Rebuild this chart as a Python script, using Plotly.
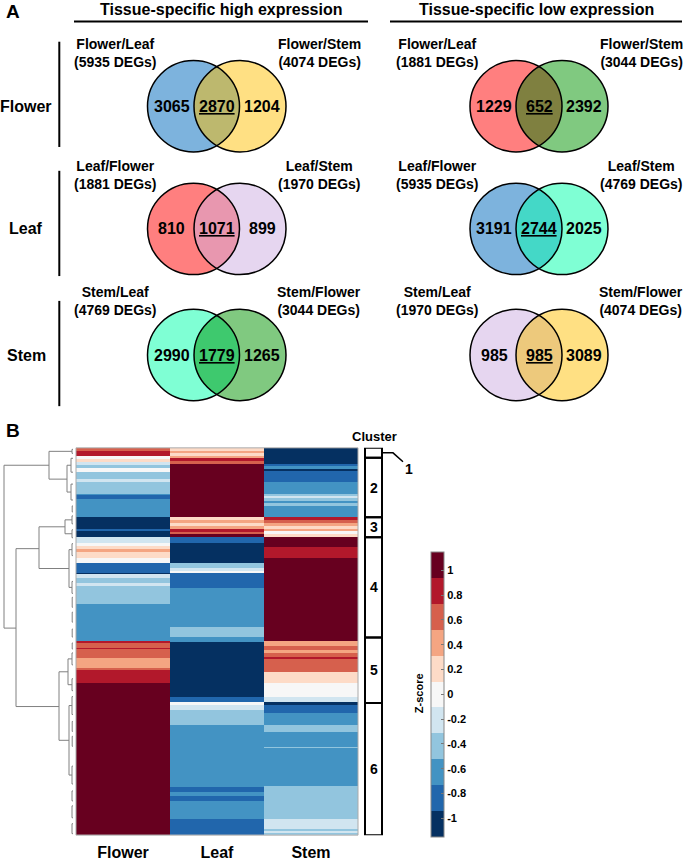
import numpy as np
import plotly.graph_objects as go

W, H = 685, 861
FONT = "Liberation Sans, Arial, sans-serif"

# ---------------- Panel A data ----------------
panel_titles = ["Tissue-specific high expression", "Tissue-specific low expression"]
row_tissues = ["Flower", "Leaf", "Stem"]

high_left_names = ["Flower/Leaf", "Leaf/Flower", "Stem/Leaf"]
high_right_names = ["Flower/Stem", "Leaf/Stem", "Stem/Flower"]
high_left_totals = [5935, 1881, 4769]
high_right_totals = [4074, 1970, 3044]
high_left_only = [3065, 810, 2990]
high_overlap = [2870, 1071, 1779]
high_right_only = [1204, 899, 1265]

low_left_names = ["Flower/Leaf", "Leaf/Flower", "Stem/Leaf"]
low_right_names = ["Flower/Stem", "Leaf/Stem", "Stem/Flower"]
low_left_totals = [1881, 5935, 1970]
low_right_totals = [3044, 4769, 4074]
low_left_only = [1229, 3191, 985]
low_overlap = [652, 2744, 985]
low_right_only = [2392, 2025, 3089]

# ---------------- Panel B data ----------------
tissues = ["Flower", "Leaf", "Stem"]
# run-length encoded z-scores (number of genes, z-score) in clustered order, top to bottom
flower_runs = [(3, 0.6), (5, 0.8), (3, 0), (3, 0.2), (3, -0.2), (3, -0.4), (4, 0), (7, -0.4),
               (3, -0.2), (12, -0.4), (2, -0.6), (4, -0.8), (18, -0.6), (12, -1), (2, -0.8),
               (6, -1), (6, -0.2), (3, 0), (3, 0.2), (3, 0.4), (6, 0.2), (5, 0), (10, -0.8),
               (1, -1), (4, -0.2), (5, -0.4), (3, -0.2), (18, -0.4), (38, -0.6), (2, 0.8),
               (5, 0.6), (1, 0.8), (9, 0.6), (10, 0.4), (2, 0.6), (13, 0.8), (153, 1)]
leaf_runs = [(3, 0.2), (2, 0.4), (3, 0.2), (2, 0.4), (3, 0.8), (3, 0.6), (54, 1),
             (3, 0.2), (3, 0.4), (3, 0.2), (3, 0.4), (3, 0.8), (2, 0.6), (3, 1),
             (6, -0.8), (20, -1), (5, -0.4), (3, -0.2), (2, 0), (15, -0.8), (40, -0.6), (10, -0.4),
             (5, -0.6), (55, -1), (5, -0.8), (3, 0), (5, -0.2), (15, -0.4), (63, -0.6), (5, -0.8),
             (4, -0.6), (5, -0.8), (18, -0.6), (16, -0.8)]
stem_runs = [(16, -1), (2, -0.8), (3, -0.6), (2, -1), (2, -0.8), (9, -0.8), (13, -0.6), (2, -0.4),
             (2, -0.2), (3, -0.4), (2, -0.6), (3, -0.4), (11, -0.6),
             (3, 0.8), (3, 0.6), (3, 0.4), (3, 0.2), (2, 0.4), (3, 0), (3, 0.2),
             (10, 1), (11, 0.8), (84, 1),
             (5, 0.4), (4, 0.6), (3, 0.4), (4, 0.6), (2, 0.8), (13, 0.6), (11, 0.2), (14, 0),
             (5, -0.2), (3, -1), (8, -0.8), (12, -0.6), (7, -0.4), (15, -0.6), (1, -0.4),
             (39, -0.6), (33, -0.4), (10, -0.2), (2, -0.4), (2, -0.2), (2, -0.4)]
cluster_names = ["1", "2", "3", "4", "5", "6"]
cluster_sizes = [10, 60, 20, 101, 66, 133]

# dendrogram merges: (row of upper child, height of upper child, row of lower child, height of lower child, merge height)
dend_upper_row = [17, 3, 1, 17, 10, 36, 101, 79, 72, 68, 82, 102, 96, 134, 225, 212, 206, 232, 259, 250, 320,
                  58, 150, 165, 182, 196, 275, 290, 345, 360, 378]
dend_upper_h = [24, 1, 0, 2, 0, 0, 34, 8, 1, 0, 0, 1, 0, 0, 5, 1, 0, 0, 1, 0, 0,
                0, 0, 0, 0, 0, 0, 0, 0, 0, 0]
dend_lower_row = [181, 31, 5, 44, 24, 52, 260, 121, 86, 76, 90, 140, 108, 146, 294, 238, 218, 244, 329, 268, 338,
                  64, 160, 175, 190, 202, 285, 300, 355, 372, 388]
dend_lower_h = [57, 6, 0, 2, 0, 0, 14, 4, 1, 0, 0, 1, 0, 0, 4, 1, 0, 0, 1, 0, 0,
                0, 0, 0, 0, 0, 0, 0, 0, 0, 0]
dend_merge_h = [69, 24, 1, 6, 2, 2, 57, 34, 8, 1, 1, 4, 1, 1, 14, 5, 1, 1, 4, 1, 1,
                0.8, 0.8, 0.8, 0.8, 0.8, 0.8, 0.8, 1, 1, 1]

colorbar_ticks = [1, 0.8, 0.6, 0.4, 0.2, 0, -0.2, -0.4, -0.6, -0.8, -1]

# ---------------- styles ----------------
rdbu11 = ["#053061", "#2166ac", "#4393c3", "#92c5de", "#d1e5f0", "#f7f7f7",
          "#fddbc7", "#f4a582", "#d6604d", "#b2182b", "#67001f"]
venn_colors = [
    [("#7DB3DD", "#FFE083", "#BDB86E"), ("#FF7F7F", "#E6D6F0", "#E897AF"), ("#7FFFD4", "#80C980", "#3EC96E")],
    [("#FF7F7F", "#80C980", "#7F8040"), ("#7DB3DD", "#7FFFD4", "#44D8C7"), ("#E6D6F0", "#FFE083", "#EDC97C")],
]
col_cx = [(193.5, 240.0), (516.0, 562.0)]
row_cy = [107.0, 230.5, 357.5]
RAD = 46.0


def expand(runs):
    out = []
    for n, v in runs:
        out += [v] * n
    return out


def bold(s):
    return "<b>%s</b>" % s


fig = go.Figure()
shapes = []
annotations = []


def ann(x, y, text, size, xref="x", yref="y", **kw):
    d = dict(x=x, y=y, text=text, xref=xref, yref=yref, showarrow=False,
             font=dict(family=FONT, size=size, color="black"))
    d.update(kw)
    annotations.append(d)


# invisible anchor trace for overlay pixel axes
fig.add_trace(go.Scatter(x=[0, W], y=[0, H], mode="markers", marker=dict(opacity=0),
                         hoverinfo="skip", showlegend=False, xaxis="x", yaxis="y"))

# ---------------- Panel A ----------------
ann(4, 12, bold("A"), 19, xanchor="left")
title_spans = [(74, 368), (390, 682)]
for t, (x0, x1) in zip(panel_titles, title_spans):
    ann((x0 + x1) / 2, 10, bold(t), 16)
    shapes.append(dict(type="line", xref="x", yref="y", x0=x0, x1=x1, y0=21.7, y1=21.7,
                       line=dict(color="black", width=2)))

bars = [(42, 148), (172, 278), (303, 409)]
for name, cy, (b0, b1) in zip(row_tissues, row_cy, bars):
    ann(26, cy, bold(name), 16)
    shapes.append(dict(type="line", xref="x", yref="y", x0=59.3, x1=59.3, y0=b0, y1=b1,
                       line=dict(color="black", width=2)))

panels = [
    (high_left_names, high_right_names, high_left_totals, high_right_totals,
     high_left_only, high_overlap, high_right_only),
    (low_left_names, low_right_names, low_left_totals, low_right_totals,
     low_left_only, low_overlap, low_right_only),
]


def lens_path(xa, xb, cy, r):
    d = xb - xa
    a = np.arccos(d / 2 / r)
    t1 = np.linspace(-a, a, 40)
    t2 = np.linspace(np.pi - a, np.pi + a, 40)
    pts = [(xa + r * np.cos(t), cy + r * np.sin(t)) for t in t1]
    pts += [(xb + r * np.cos(t), cy - r * np.sin(t - np.pi) * -1) for t in t2]
    p = "M %.2f,%.2f " % pts[0] + " ".join("L %.2f,%.2f" % q for q in pts[1:]) + " Z"
    return p


for ci, (lnames, rnames, ltot, rtot, lonly, ov, ronly) in enumerate(panels):
    xa, xb = col_cx[ci]
    for ri in range(3):
        cy = row_cy[ri]
        cl, cr, co = venn_colors[ci][ri]
        shapes.append(dict(type="circle", xref="x", yref="y", x0=xa - RAD, x1=xa + RAD,
                           y0=cy - RAD, y1=cy + RAD, fillcolor=cl, line=dict(width=0)))
        shapes.append(dict(type="circle", xref="x", yref="y", x0=xb - RAD, x1=xb + RAD,
                           y0=cy - RAD, y1=cy + RAD, fillcolor=cr, line=dict(width=0)))
        shapes.append(dict(type="path", xref="x", yref="y", path=lens_path(xa, xb, cy, RAD),
                           fillcolor=co, line=dict(width=0)))
        for xc in (xa, xb):
            shapes.append(dict(type="circle", xref="x", yref="y", x0=xc - RAD, x1=xc + RAD,
                               y0=cy - RAD, y1=cy + RAD, line=dict(color="black", width=1.5)))
        ann(xa - 22, cy, bold(lonly[ri]), 16)
        ann((xa + xb) / 2, cy, bold("<u>%d</u>" % ov[ri]), 16)
        ann(xb + 22, cy, bold(ronly[ri]), 16)
        ann(xa - 79, cy - 54, bold("%s<br>(%d DEGs)" % (lnames[ri], ltot[ri])), 14)
        ann(xb + 79, cy - 54, bold("%s<br>(%d DEGs)" % (rnames[ri], rtot[ri])), 14)

# ---------------- Panel B ----------------
ann(4, 434, bold("B"), 19, xanchor="left")

cols = [expand(flower_runs), expand(leaf_runs), expand(stem_runs)]
n = len(cols[0])
z = np.array(cols).T
rows = np.arange(n)

ncol = len(rdbu11)
cs = []
for i, c in enumerate(rdbu11):
    cs.append([i / ncol, c])
    cs.append([(i + 1) / ncol, c])

fig.add_trace(go.Heatmap(
    z=z, x=tissues, y=rows, xaxis="x3", yaxis="y3", colorscale=cs, zmin=-1.15, zmax=1.15,
    hoverinfo="skip",
    colorbar=dict(x=430.7 / W, xanchor="left", xpad=0, ypad=0, thickness=12.6,
                  thicknessmode="pixels", len=285, lenmode="pixels",
                  y=1 - 699.2 / H, yanchor="middle",
                  tickvals=colorbar_ticks, ticktext=[str(t) for t in colorbar_ticks],
                  ticks="inside", ticklen=3, tickcolor="#777", outlinewidth=1, outlinecolor="#888",
                  tickfont=dict(family=FONT, size=11, color="black", weight="bold")),
))

# dendrogram
dx, dy = [], []
for ur, uh, lr, lh, mh in zip(dend_upper_row, dend_upper_h, dend_lower_row, dend_lower_h, dend_merge_h):
    dx += [uh, mh, mh, lh, None]
    dy += [ur, ur, lr, lr, None]
fig.add_trace(go.Scatter(x=dx, y=dy, mode="lines", line=dict(color="#808080", width=1),
                         xaxis="x4", yaxis="y3", hoverinfo="skip", showlegend=False))

# heatmap border
shapes.append(dict(type="rect", xref="x3 domain", yref="y3 domain", x0=0, x1=1, y0=0, y1=1,
                   line=dict(color="#aaaaaa", width=1)))

# cluster boxes
start = 0
for name, size in zip(cluster_names, cluster_sizes):
    y0 = start - 0.5
    y1 = start + size - 0.5
    shapes.append(dict(type="rect", xref="x", yref="y3", x0=365, x1=382, y0=y0, y1=y1,
                       line=dict(color="black", width=2)))
    if name == "1":
        ym = (y0 + y1) / 2
        shapes.append(dict(type="path", xref="x", yref="y3",
                           path="M 382,%.1f L 393,%.1f L 403,%.1f" % (ym, ym, ym + 9),
                           line=dict(color="black", width=1.5)))
        ann(408.5, ym + 16, bold(name), 14, yref="y3")
    else:
        ann(373.5, (y0 + y1) / 2, bold(name), 14, yref="y3")
    start += size

ann(374, 440, bold("Cluster"), 13)
ann(419, 698, bold("Z-score"), 11, textangle=-90)

fig.update_layout(
    width=W, height=H, autosize=False, margin=dict(l=0, r=0, t=0, b=0),
    paper_bgcolor="white", plot_bgcolor="rgba(0,0,0,0)", showlegend=False,
    xaxis=dict(domain=[0, 1], range=[0, W], visible=False, fixedrange=True),
    yaxis=dict(domain=[0, 1], range=[H, 0], visible=False, fixedrange=True),
    xaxis3=dict(domain=[76 / W, 358 / W], anchor="y3", showgrid=False, zeroline=False, ticks="",
                showline=False, ticklabelstandoff=6, fixedrange=True,
                tickfont=dict(family=FONT, size=16, color="black", weight="bold")),
    yaxis3=dict(domain=[1 - 841 / H, 1 - 451 / H], anchor="x3", range=[n - 0.5, -0.5], visible=False,
                fixedrange=True),
    xaxis4=dict(domain=[2 / W, 76 / W], anchor="y3", range=[71, -3], visible=False, fixedrange=True),
    shapes=shapes, annotations=annotations,
)

fig.write_html(
    "out.html", config={"displayModeBar": False},
    post_script=("document.documentElement.style.margin='0';document.body.style.margin='0';"
                 "document.documentElement.style.overflow='hidden';document.body.style.overflow='hidden';"
                 "window.scrollTo(0,0);"))
